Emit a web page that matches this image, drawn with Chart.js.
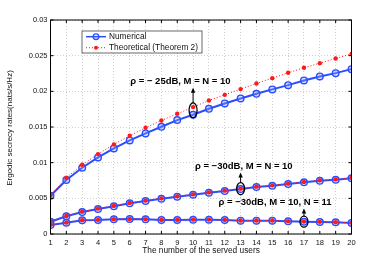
<!DOCTYPE html>
<html>
<head>
<meta charset="utf-8">
<script src="https://cdn.jsdelivr.net/npm/chart.js@4/dist/chart.umd.min.js"></script>
<style>
  body { margin: 0; background: #fff; }
  canvas { display: block; }
</style>
</head>
<body>
<canvas id="secrecyChart" width="388" height="264"></canvas>
<script>
// number of served users
const users = [1, 2, 3, 4, 5, 6, 7, 8, 9, 10, 11, 12, 13, 14, 15, 16, 17, 18, 19, 20];

// rho = -25dB, M = N = 10
const num25 = [0.00536, 0.00756, 0.00929, 0.01074, 0.0120, 0.01312, 0.0141, 0.01503, 0.01597, 0.01671,
               0.01755, 0.0183, 0.0190, 0.01965, 0.02027, 0.02087, 0.02153, 0.02209, 0.02255, 0.02311];
const theo25 = [0.0054, 0.00789, 0.0097, 0.0112, 0.01256, 0.01377, 0.01489, 0.01592, 0.01685, 0.01779,
                0.01872, 0.01951, 0.02031, 0.0211, 0.02185, 0.0226, 0.0233, 0.02395, 0.0246, 0.02525];

// rho = -30dB, M = N = 10
const num30 = [0.00172, 0.00248, 0.00308, 0.0035, 0.00388, 0.0043, 0.00462, 0.00494, 0.00522, 0.0055,
               0.00578, 0.00602, 0.0063, 0.00658, 0.00676, 0.007, 0.00724, 0.00746, 0.0076, 0.0078];
const theo30 = [0.00176, 0.00253, 0.00313, 0.00356, 0.00394, 0.00436, 0.00468, 0.005, 0.00528, 0.00556,
                0.00584, 0.00608, 0.00636, 0.00664, 0.00682, 0.00706, 0.0073, 0.00752, 0.00766, 0.00786];

// rho = -30dB, M = 10, N = 11
const num30b = [0.00126, 0.00158, 0.00192, 0.00196, 0.00206, 0.0021, 0.00206, 0.00196, 0.00196, 0.002,
                0.002, 0.00196, 0.00187, 0.00187, 0.00187, 0.00178, 0.00172, 0.00168, 0.00164, 0.00154];
const theo30b = [0.00128, 0.0016, 0.00194, 0.00198, 0.00208, 0.00212, 0.00208, 0.00198, 0.00198, 0.00202,
                 0.00202, 0.00198, 0.00189, 0.00189, 0.00189, 0.0018, 0.00174, 0.0017, 0.00166, 0.00156];

const yTicks = [0, 0.005, 0.01, 0.015, 0.02, 0.025, 0.03];

// annotation labels: which point is circled and where the text sits (data units)
const notes = [
  { text: "\u03C1 = \u2212 25dB, M = N = 10", x: 10, lo: 0.0163, hi: 0.0184, tx: 9.2, ty: 0.02143 },
  { text: "\u03C1 = \u221230dB, M = N = 10", x: 13, lo: 0.0055, hi: 0.0072, tx: 13.2, ty: 0.00955 },
  { text: "\u03C1 = \u221230dB, M = 10, N = 11", x: 17, lo: 0.00095, hi: 0.0025, tx: 15.17, ty: 0.0045 }
];

const blue = "#2b4dff";
const red = "#ff1a1a";
const font = "'Liberation Sans', Arial, sans-serif";

function pts(ys) {
  return users.map((u, i) => ({ x: u, y: ys[i] }));
}

function numSet(ys) {
  return {
    data: pts(ys),
    borderColor: blue,
    borderWidth: 2,
    pointRadius: 3.3,
    pointBorderWidth: 1.4,
    pointBackgroundColor: "rgba(140,160,255,0.35)",
    pointBorderColor: blue,
    order: 2
  };
}

function theoSet(ys) {
  return {
    data: pts(ys),
    borderColor: red,
    borderWidth: 1,
    borderDash: [1, 2],
    pointRadius: 2.2,
    pointBorderWidth: 0,
    pointBackgroundColor: red,
    order: 1
  };
}

const decorPlugin = {
  id: "decor",
  afterDatasetsDraw(chart) {
    const ctx = chart.ctx;
    const a = chart.chartArea;
    const xs = chart.scales.x;
    const ys = chart.scales.y;
    ctx.save();

    // frame
    ctx.strokeStyle = "#000";
    ctx.lineWidth = 1;
    ctx.strokeRect(a.left, a.top, a.right - a.left, a.bottom - a.top);

    // inward ticks on all sides
    ctx.beginPath();
    users.forEach(u => {
      const px = xs.getPixelForValue(u);
      ctx.moveTo(px, a.bottom); ctx.lineTo(px, a.bottom - 3);
      ctx.moveTo(px, a.top); ctx.lineTo(px, a.top + 3);
    });
    yTicks.forEach(v => {
      const py = ys.getPixelForValue(v);
      ctx.moveTo(a.left, py); ctx.lineTo(a.left + 3, py);
      ctx.moveTo(a.right, py); ctx.lineTo(a.right - 3, py);
    });
    ctx.stroke();

    // annotations
    notes.forEach(n => {
      const cx = xs.getPixelForValue(n.x);
      const top = ys.getPixelForValue(n.hi);
      const bot = ys.getPixelForValue(n.lo);
      const cy = (top + bot) / 2;
      const ry = (bot - top) / 2;
      ctx.lineWidth = 1.3;
      ctx.strokeStyle = "#000";
      ctx.beginPath();
      ctx.ellipse(cx, cy, 4, ry, 0, 0, Math.PI * 2);
      ctx.stroke();

      const tyPix = ys.getPixelForValue(n.ty);
      const tip = tyPix + 6.5;
      ctx.lineWidth = 1;
      ctx.beginPath();
      ctx.moveTo(cx, top);
      ctx.lineTo(cx, tip + 3);
      ctx.stroke();
      ctx.fillStyle = "#000";
      ctx.beginPath();
      ctx.moveTo(cx, tip);
      ctx.lineTo(cx - 2.2, tip + 5);
      ctx.lineTo(cx + 2.2, tip + 5);
      ctx.closePath();
      ctx.fill();

      ctx.font = "bold 9.5px " + font;
      ctx.textAlign = "center";
      ctx.textBaseline = "middle";
      ctx.fillText(n.text, xs.getPixelForValue(n.tx), tyPix);
    });

    // legend box
    const lx = a.left + 31.5, ly = a.top + 11;
    ctx.fillStyle = "#fff";
    ctx.fillRect(lx, ly, 120, 22);
    ctx.strokeStyle = "#444";
    ctx.lineWidth = 0.8;
    ctx.strokeRect(lx, ly, 120, 22);

    const r1 = ly + 5.7, r2 = ly + 16.7;
    ctx.strokeStyle = blue;
    ctx.lineWidth = 1.5;
    ctx.beginPath();
    ctx.moveTo(lx + 4, r1); ctx.lineTo(lx + 24, r1);
    ctx.stroke();
    ctx.lineWidth = 1.3;
    ctx.beginPath();
    ctx.arc(lx + 14, r1, 2.8, 0, Math.PI * 2);
    ctx.stroke();

    ctx.strokeStyle = red;
    ctx.lineWidth = 1;
    ctx.setLineDash([1, 2]);
    ctx.beginPath();
    ctx.moveTo(lx + 4, r2); ctx.lineTo(lx + 24, r2);
    ctx.stroke();
    ctx.setLineDash([]);
    ctx.fillStyle = red;
    ctx.beginPath();
    ctx.arc(lx + 14, r2, 2, 0, Math.PI * 2);
    ctx.fill();

    ctx.fillStyle = "#111";
    ctx.font = "8.3px " + font;
    ctx.textAlign = "left";
    ctx.fillText("Numerical", lx + 27, r1);
    ctx.fillText("Theoretical (Theorem 2)", lx + 27, r2);

    // axis titles
    ctx.font = "8.3px " + font;
    ctx.textAlign = "center";
    ctx.fillText("The number of the served users", (a.left + a.right) / 2, 251);
    ctx.translate(10, (a.top + a.bottom) / 2 + 1);
    ctx.rotate(-Math.PI / 2);
    ctx.font = "8px " + font;
    ctx.fillText("Ergodic secrecy rates(nats/s/Hz)", 0, 0);

    ctx.restore();
  }
};

new Chart(document.getElementById("secrecyChart").getContext("2d"), {
  type: "line",
  data: {
    datasets: [
      numSet(num25), theoSet(theo25),
      numSet(num30), theoSet(theo30),
      numSet(num30b), theoSet(theo30b)
    ]
  },
  options: {
    responsive: false,
    animation: false,
    layout: { padding: { left: 0, right: 36.5, top: 20, bottom: 0 } },
    plugins: { legend: { display: false }, tooltip: { enabled: false } },
    scales: {
      x: {
        type: "linear",
        min: 1,
        max: 20,
        afterFit: s => { s.height = 30; },
        afterBuildTicks: s => { s.ticks = users.map(v => ({ value: v })); },
        grid: { color: "#c4c4c4", lineWidth: 0.8, drawTicks: false },
        border: { display: false, dash: [1, 2] },
        ticks: { color: "#111", padding: 4, font: { size: 7.5, family: font }, maxRotation: 0, autoSkip: false }
      },
      y: {
        min: 0,
        max: 0.03,
        afterFit: s => { s.width = 50.5; },
        afterBuildTicks: s => { s.ticks = yTicks.map(v => ({ value: v })); },
        grid: { color: "#c4c4c4", lineWidth: 0.8, drawTicks: false },
        border: { display: false, dash: [1, 2] },
        ticks: {
          color: "#111",
          padding: 3,
          font: { size: 7.5, family: font },
          callback: v => String(+v.toFixed(3))
        }
      }
    }
  },
  plugins: [decorPlugin]
});
</script>
</body>
</html>
